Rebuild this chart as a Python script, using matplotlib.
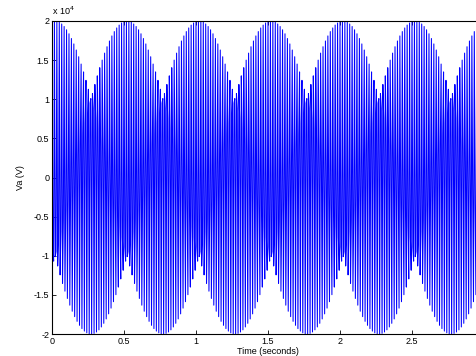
import numpy as np
import matplotlib
matplotlib.use('Agg')
import matplotlib.pyplot as plt

###########
#   Signal values   #
###########
# Va is a sampled 60 Hz wave, peak 2e4 V, over 3 s. The sample rate is
# close to 3x the line frequency, so the plot shows the 0.5 s beat pattern.
amplitude = 2.0e4          # V
line_freq = 60.0           # Hz
sample_rate = 178.0        # samples / s
phase_deg = 85.0           # starts near the peak
t_end = 3.0                # s

x_ticks = [0, 0.5, 1, 1.5, 2, 2.5]
x_labels = ['0', '0.5', '1', '1.5', '2', '2.5']
y_ticks = [-2e4, -1.5e4, -1e4, -0.5e4, 0, 0.5e4, 1e4, 1.5e4, 2e4]
y_labels = ['-2', '-1.5', '-1', '-0.5', '0', '0.5', '1', '1.5', '2']

t = np.arange(0, t_end + 1e-9, 1.0 / sample_rate)
va = amplitude * np.sin(2 * np.pi * line_freq * t + np.radians(phase_deg))

plt.rcParams['font.family'] = ['Liberation Sans', 'DejaVu Sans']

fig = plt.figure(figsize=(4.76, 3.56), dpi=100)
ax = fig.add_axes([52 / 476, 22 / 356, 432 / 476, 313 / 356])

ax.plot(t, va, color=(0, 0, 1), linewidth=0.75)

ax.set_xlim(0, 3)
ax.set_ylim(-2e4, 2e4)
ax.set_xticks(x_ticks)
ax.set_xticklabels(x_labels)
ax.set_yticks(y_ticks)
ax.set_yticklabels(y_labels)
ax.tick_params(direction='in', length=3, width=0.6, labelsize=6.5, pad=2)
ax.tick_params(top=True, right=True)
for s in ax.spines.values():
    s.set_linewidth(0.8)

ax.set_xlabel('Time (seconds)', fontsize=6.5, labelpad=1)
ax.set_ylabel('Va (V)', fontsize=6.5, labelpad=6)
ax.text(0.0, 1.012, r'x 10$^4$', transform=ax.transAxes, fontsize=6.5,
        ha='left', va='bottom')

fig.savefig('out.png', dpi=100)
